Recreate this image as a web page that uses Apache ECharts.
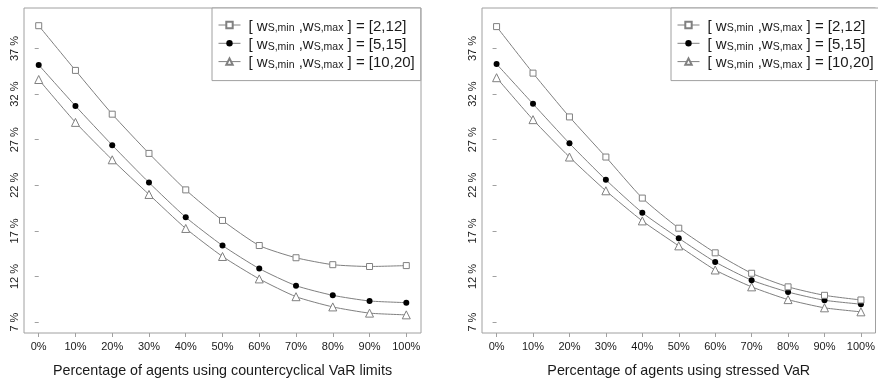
<!DOCTYPE html>
<html>
<head>
<meta charset="utf-8">
<script src="https://cdn.jsdelivr.net/npm/echarts@6/dist/echarts.min.js"></script>
<style>
  html, body { margin: 0; padding: 0; background: #fff; }
  #chart { width: 878px; height: 383px; }
</style>
</head>
<body>
<div id="chart"></div>
<script>
// Share of agents (x) and resulting level (%) for three weight ranges
const xLabels = ['0%', '10%', '20%', '30%', '40%', '50%', '60%', '70%', '80%', '90%', '100%'];
const yTicks = [7, 12, 17, 22, 27, 32, 37];
const rangeLabels = ['[2,12]', '[5,15]', '[10,20]'];

// Countercyclical VaR limits
const cvar_2_12  = [39.5, 34.6, 29.8, 25.5, 21.5, 18.15, 15.4, 14.06, 13.3, 13.1, 13.2];
const cvar_5_15  = [35.2, 30.7, 26.4, 22.3, 18.5, 15.4, 12.87, 11.0, 9.94, 9.32, 9.14];
const cvar_10_20 = [33.6, 28.9, 24.8, 21.0, 17.27, 14.2, 11.74, 9.79, 8.67, 7.99, 7.8];

// Stressed VaR
const svar_2_12  = [39.4, 34.3, 29.5, 25.1, 20.6, 17.3, 14.6, 12.36, 10.87, 9.94, 9.43];
const svar_5_15  = [35.3, 30.93, 26.6, 22.6, 19.0, 16.2, 13.6, 11.6, 10.3, 9.4, 8.97];
const svar_10_20 = [33.8, 29.2, 25.1, 21.4, 18.1, 15.36, 12.72, 10.87, 9.47, 8.57, 8.13];

const xTitles = ['Percentage of agents using countercyclical VaR limits', 'Percentage of agents using stressed VaR'];

const FONT = '"Liberation Sans", Arial, sans-serif';
const FRAME = '#a0a0a0';
const LINE = '#808080';
const TEXT = '#1a1a1a';

const seriesNames = rangeLabels.map(r => '[ w{S,min} ,w{S,max} ] = ' + r);

const markerStyles = [
  { symbol: 'rect', symbolSize: 6, itemStyle: { color: '#fff', borderColor: LINE, borderWidth: 1 } },
  { symbol: 'circle', symbolSize: 6, itemStyle: { color: '#000', borderColor: '#000', borderWidth: 0 } },
  { symbol: 'triangle', symbolSize: 8, itemStyle: { color: '#fff', borderColor: LINE, borderWidth: 1 } }
];

const panels = [
  { left: 24, values: [cvar_2_12, cvar_5_15, cvar_10_20] },
  { left: 482, values: [svar_2_12, svar_5_15, svar_10_20] }
];

const toPoints = arr => arr.map((v, i) => [i, v]);

const grids = panels.map(p => ({
  left: p.left, top: 8, width: 397, height: 329,
  show: true, borderColor: FRAME, borderWidth: 1, backgroundColor: 'transparent'
}));

const xAxes = panels.map((p, k) => ({
  type: 'value', gridIndex: k, min: -0.4, max: 10.4,
  splitLine: { show: false },
  axisLine: { show: false },
  axisTick: { show: true, length: 4, lineStyle: { color: FRAME }, customValues: xLabels.map((_, i) => i) },
  axisLabel: {
    customValues: xLabels.map((_, i) => i),
    formatter: v => xLabels[Math.round(v)],
    color: TEXT, fontFamily: FONT, fontSize: 11, margin: 8
  },
  name: xTitles[k], nameLocation: 'middle', nameGap: 31,
  nameTextStyle: { color: TEXT, fontFamily: FONT, fontSize: 14.3 }
}));

const yAxes = panels.map((p, k) => ({
  type: 'value', gridIndex: k, min: 5.81, max: 41.44,
  splitLine: { show: false },
  axisLine: { show: false },
  axisTick: { show: true, length: 4, lineStyle: { color: FRAME }, customValues: yTicks },
  axisLabel: {
    customValues: yTicks, rotate: 90,
    formatter: v => Math.round(v) + ' %',
    color: TEXT, fontFamily: FONT, fontSize: 11, margin: 4
  }
}));

const series = [];
panels.forEach((p, k) => {
  p.values.forEach((vals, j) => {
    series.push(Object.assign({
      name: seriesNames[j], type: 'line', xAxisIndex: k, yAxisIndex: k,
      data: toPoints(vals), smooth: 0.2, showAllSymbol: true,
      lineStyle: { color: LINE, width: 1 }, emphasis: { disabled: true },
      animation: false, z: 3 - j
    }, markerStyles[j]));
  });
});

const legendFormatter = name => {
  const m = name.match(/^\[ w\{S,min\} ,w\{S,max\} \] = (.*)$/);
  return '{b|[ w}{s|S,min}{b| ,w}{s|S,max}{b| ] = ' + m[1] + '}';
};

const legendBase = {
  orient: 'vertical', top: 8, itemWidth: 22, itemHeight: 8, itemGap: 3.3,
  padding: [11, 6, 10, 6], borderColor: FRAME, borderWidth: 1,
  backgroundColor: '#fff', selectedMode: false,
  lineStyle: { width: 1 },
  data: seriesNames, formatter: legendFormatter,
  textStyle: {
    color: TEXT, fontFamily: FONT, padding: [0, 0, 0, 3],
    rich: {
      b: { fontSize: 15, fontFamily: FONT, color: TEXT, lineHeight: 18, verticalAlign: 'bottom' },
      s: { fontSize: 10.5, fontFamily: FONT, color: TEXT, lineHeight: 9, verticalAlign: 'bottom' }
    }
  }
};

const chart = echarts.init(document.getElementById('chart'), null, { renderer: 'canvas' });
chart.setOption({
  backgroundColor: '#fff',
  animation: false,
  grid: grids,
  xAxis: xAxes,
  yAxis: yAxes,
  legend: [
    Object.assign({}, legendBase, { left: 212 }),
    Object.assign({}, legendBase, { left: 671 })
  ],
  series: series
});
</script>
</body>
</html>
